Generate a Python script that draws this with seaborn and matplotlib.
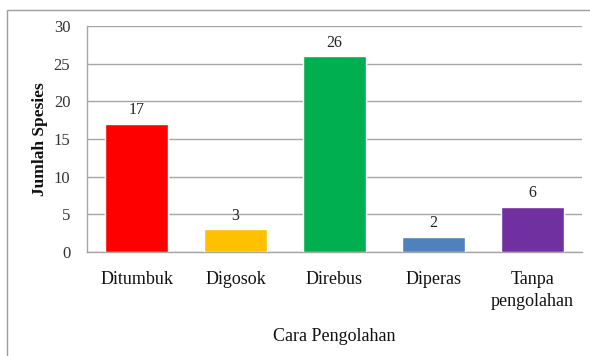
import matplotlib
matplotlib.use("Agg")
import matplotlib.pyplot as plt
from matplotlib.patches import Rectangle
import seaborn as sns
import pandas as pd

categories = ["Ditumbuk", "Digosok", "Direbus", "Diperas", "Tanpa\npengolahan"]
jumlah = [17, 3, 26, 2, 6]
warna = ["#FF0000", "#FFC000", "#00B050", "#4F81BD", "#7030A0"]
y_ticks = [0, 5, 10, 15, 20, 25, 30]

sns.set_theme(style="white")
plt.rcParams["font.family"] = ["Liberation Serif", "DejaVu Serif"]

df = pd.DataFrame({"Cara": categories, "Jumlah": jumlah})

fig = plt.figure(figsize=(5.9, 3.56), dpi=100)
ax = fig.add_axes([0.1475, 0.292, 0.8389, 0.635])

sns.barplot(data=df, x="Cara", y="Jumlah", hue="Cara", palette=warna,
            legend=False, width=0.64, saturation=1, ax=ax, zorder=3)

ax.set_ylim(0, 30)
ax.set_yticks(y_ticks)
ax.yaxis.grid(True, color="#A6A6A6", linewidth=1.0, zorder=0)
ax.set_axisbelow(True)
for s in ["top", "right"]:
    ax.spines[s].set_visible(False)
ax.spines["left"].set_color("#A6A6A6")
ax.spines["bottom"].set_color("#A6A6A6")
ax.spines["left"].set_linewidth(1.0)
ax.spines["bottom"].set_linewidth(1.0)
ax.tick_params(axis="y", length=0, pad=12, labelsize=12, labelcolor="#333333")
ax.tick_params(axis="x", length=0, pad=14, labelsize=13, labelcolor="#111111")
for lbl in ax.get_xticklabels():
    lbl.set_linespacing(1.35)
    lbl.set_verticalalignment("top")

for cont in ax.containers:
    ax.bar_label(cont, padding=4, fontsize=11.5, color="#222222")

ax.set_xlabel("Cara Pengolahan", fontsize=13, color="#111111", labelpad=13)
ax.set_ylabel("Jumlah Spesies", fontsize=12.5, color="#111111",
              fontweight="bold", labelpad=4)

# outer chart frame
fig.patches.append(Rectangle((7 / 590, -0.1), 1.2, (346 / 356) + 0.1,
                             transform=fig.transFigure, fill=False,
                             edgecolor="#9E9E9E", linewidth=1.0))

fig.savefig("out.png", dpi=100, facecolor="white")
